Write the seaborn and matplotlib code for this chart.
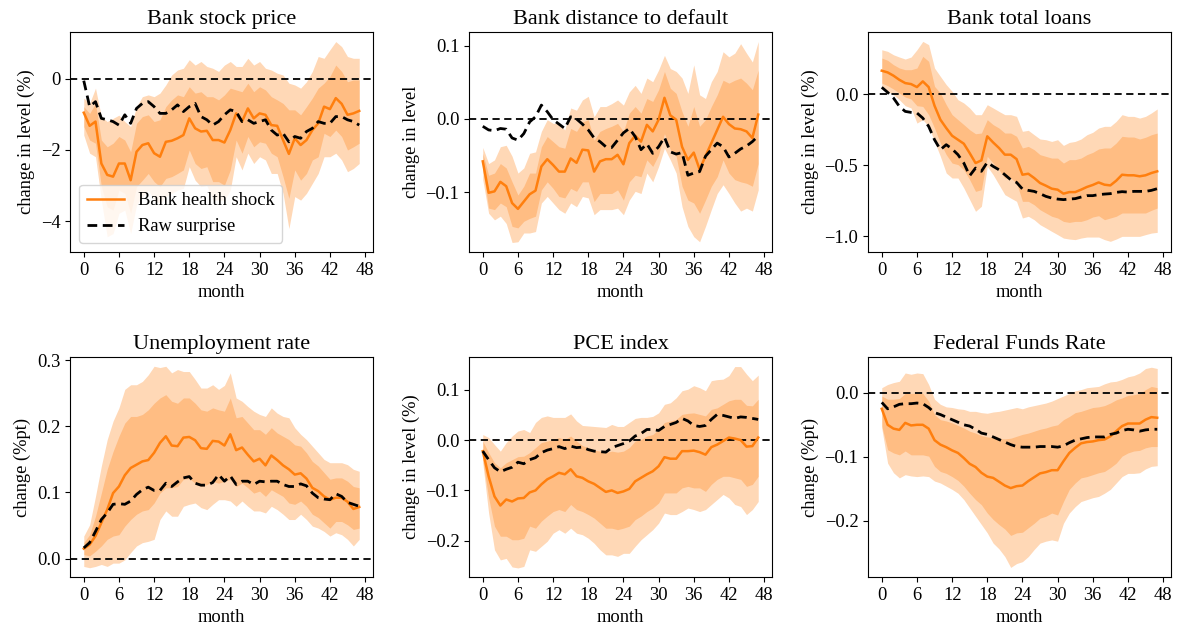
import numpy as np
import pandas as pd
import matplotlib
matplotlib.use("Agg")
import matplotlib.pyplot as plt
import seaborn as sns

months = list(range(48))
xticks = [0, 6, 12, 18, 24, 30, 36, 42, 48]

titles = ["Bank stock price", "Bank distance to default", "Bank total loans",
          "Unemployment rate", "PCE index", "Federal Funds Rate"]
ylabels = ["change in level (%)", "change in level", "change in level (%)",
           "change (%pt)", "change in level (%)", "change (%pt)"]
legend_labels = ["Bank health shock", "Raw surprise"]

# ---- Bank stock price ----
stock_irf = [-0.95,-1.32,-1.2,-2.38,-2.7,-2.75,-2.38,-2.38,-2.85,-2.05,-1.86,-1.81,-2.09,-2.19,-1.77,-1.74,
             -1.67,-1.58,-1.11,-1.39,-1.48,-1.46,-1.72,-1.72,-1.79,-1.44,-0.97,-1.2,-0.83,-1.11,-0.97,-1.01,
             -1.3,-1.32,-1.72,-2.11,-1.67,-1.86,-1.72,-1.44,-1.25,-0.78,-0.85,-0.54,-0.7,-1.01,-0.97,-0.9]
stock_raw = [-0.05,-0.78,-0.64,-1.11,-1.15,-1.2,-1.3,-1.01,-1.25,-0.83,-0.69,-0.64,-0.78,-0.97,-0.97,-0.87,
             -0.73,-0.92,-0.78,-0.69,-1.06,-1.15,-1.3,-1.2,-1.01,-0.87,-0.92,-1.2,-1.15,-1.25,-1.2,-1.15,
             -1.44,-1.58,-1.53,-1.77,-1.62,-1.67,-1.48,-1.39,-1.2,-1.25,-1.25,-1.06,-1.06,-1.15,-1.2,-1.3]
stock_hi90 = [-0.54,-0.69,-0.26,-1.06,-1.2,-1.11,-1.02,-1.2,-1.34,-0.78,-0.5,-0.45,-0.5,-0.4,-0.17,0.11,
              0.25,0.3,0.54,0.39,0.49,0.35,0.3,0.21,0.39,0.49,0.35,0.35,0.58,0.39,0.49,0.3,
              0.25,0.16,0.11,-0.12,-0.17,-0.26,-0.08,0.21,0.63,0.58,0.82,1.05,0.91,0.63,0.58,0.58]
stock_hi68 = [-0.78,-0.97,-0.69,-1.72,-1.91,-1.81,-1.62,-1.72,-2.05,-1.25,-1.06,-1.01,-1.2,-1.15,-0.78,-0.59,
              -0.45,-0.5,-0.22,-0.4,-0.36,-0.5,-0.5,-0.59,-0.45,-0.26,-0.31,-0.36,-0.12,-0.36,-0.22,-0.31,
              -0.5,-0.59,-0.69,-0.87,-0.87,-1.01,-0.78,-0.54,-0.26,-0.12,0.07,0.39,0.21,-0.08,-0.03,-0.03]
stock_lo68 = [-1.34,-1.72,-1.81,-3.03,-3.6,-3.69,-3.13,-3.22,-3.78,-3.03,-2.85,-2.66,-2.89,-3.03,-2.8,-2.75,
              -2.66,-2.56,-2.0,-2.38,-2.52,-2.47,-2.89,-2.89,-2.99,-2.56,-1.72,-2.09,-1.62,-1.91,-1.77,-1.81,
              -2.09,-2.19,-2.75,-3.36,-2.56,-2.85,-2.66,-2.28,-2.19,-1.53,-1.62,-1.44,-1.62,-2.0,-1.91,-1.81]
stock_lo90 = [-1.58,-2.09,-2.19,-3.41,-4.44,-4.35,-3.78,-3.69,-4.35,-3.55,-3.31,-3.13,-3.41,-3.5,-3.31,-3.22,
              -3.13,-3.08,-2.47,-2.85,-3.03,-2.99,-3.41,-3.41,-3.41,-3.13,-2.19,-2.56,-2.09,-2.38,-2.19,-2.28,
              -2.66,-2.66,-3.22,-4.21,-3.31,-3.41,-3.22,-2.94,-2.66,-2.19,-2.19,-2.09,-2.28,-2.61,-2.52,-2.38]

# ---- Bank distance to default ----
dd_irf = [-0.058,-0.101,-0.099,-0.086,-0.092,-0.115,-0.123,-0.113,-0.103,-0.098,-0.065,-0.055,-0.063,-0.072,-0.072,-0.054,
          -0.06,-0.042,-0.043,-0.072,-0.058,-0.055,-0.055,-0.049,-0.062,-0.033,-0.023,-0.031,-0.008,-0.017,-0.001,0.029,
          0.005,-0.001,-0.038,-0.056,-0.046,-0.069,-0.051,-0.033,-0.015,0.003,-0.007,-0.013,-0.014,-0.017,-0.026,0.006]
dd_raw = [-0.01,-0.015,-0.016,-0.013,-0.014,-0.026,-0.029,-0.02,-0.004,0.003,0.019,0.01,-0.001,-0.007,-0.013,0.003,
          0.0,-0.007,-0.015,-0.026,-0.031,-0.038,-0.039,-0.029,-0.019,-0.013,-0.024,-0.042,-0.034,-0.047,-0.038,-0.025,
          -0.045,-0.048,-0.046,-0.077,-0.074,-0.072,-0.051,-0.042,-0.033,-0.038,-0.052,-0.047,-0.041,-0.037,-0.031,-0.023]
dd_hi90 = [-0.039,-0.061,-0.056,-0.038,-0.036,-0.051,-0.074,-0.067,-0.047,-0.045,-0.017,-0.001,-0.006,-0.006,-0.015,0.015,
           0.012,0.026,0.031,0.003,0.017,0.017,0.021,0.026,0.019,0.037,0.046,0.035,0.056,0.051,0.067,0.087,
           0.069,0.065,0.056,0.035,0.074,0.033,0.028,0.051,0.065,0.092,0.085,0.09,0.103,0.09,0.078,0.106]
dd_hi68 = [-0.047,-0.077,-0.074,-0.061,-0.067,-0.086,-0.104,-0.092,-0.074,-0.074,-0.038,-0.024,-0.031,-0.038,-0.04,-0.013,
           -0.017,-0.004,-0.001,-0.029,-0.017,-0.013,-0.01,-0.006,-0.017,0.008,0.017,0.008,0.028,0.024,0.04,0.065,
           0.042,0.035,0.01,-0.01,0.017,-0.01,-0.001,0.017,0.033,0.053,0.049,0.053,0.056,0.049,0.04,0.067]
dd_lo68 = [-0.07,-0.122,-0.124,-0.115,-0.12,-0.147,-0.149,-0.14,-0.136,-0.133,-0.097,-0.086,-0.095,-0.106,-0.108,-0.095,
           -0.099,-0.086,-0.086,-0.113,-0.102,-0.102,-0.102,-0.097,-0.111,-0.086,-0.077,-0.079,-0.056,-0.065,-0.049,-0.02,
           -0.042,-0.051,-0.092,-0.111,-0.115,-0.129,-0.111,-0.092,-0.079,-0.056,-0.074,-0.083,-0.086,-0.088,-0.092,-0.061]
dd_lo90 = [-0.083,-0.129,-0.138,-0.133,-0.143,-0.169,-0.168,-0.156,-0.156,-0.154,-0.115,-0.106,-0.115,-0.124,-0.129,-0.115,
           -0.12,-0.106,-0.108,-0.131,-0.124,-0.124,-0.124,-0.122,-0.131,-0.111,-0.099,-0.102,-0.074,-0.086,-0.065,-0.04,
           -0.056,-0.074,-0.12,-0.147,-0.161,-0.168,-0.147,-0.124,-0.102,-0.09,-0.102,-0.115,-0.126,-0.122,-0.126,-0.097]

# ---- Bank total loans ----
loans_irf = [0.164,0.152,0.129,0.1,0.077,0.07,0.049,0.089,0.049,-0.082,-0.18,-0.239,-0.293,-0.321,-0.349,-0.415,
             -0.485,-0.466,-0.297,-0.34,-0.379,-0.426,-0.426,-0.457,-0.567,-0.56,-0.59,-0.625,-0.644,-0.665,-0.672,-0.7,
             -0.689,-0.689,-0.672,-0.653,-0.639,-0.621,-0.637,-0.642,-0.609,-0.567,-0.571,-0.571,-0.578,-0.571,-0.555,-0.543]
loans_raw = [0.047,0.012,-0.028,-0.087,-0.122,-0.129,-0.133,-0.169,-0.227,-0.321,-0.391,-0.356,-0.386,-0.426,-0.485,-0.574,
             -0.52,-0.543,-0.48,-0.508,-0.532,-0.567,-0.602,-0.621,-0.667,-0.677,-0.684,-0.7,-0.719,-0.731,-0.738,-0.742,
             -0.738,-0.735,-0.724,-0.714,-0.714,-0.707,-0.703,-0.7,-0.691,-0.686,-0.689,-0.684,-0.684,-0.684,-0.677,-0.665]
loans_hi90 = [0.311,0.3,0.276,0.26,0.246,0.26,0.311,0.37,0.347,0.183,0.124,0.066,0.019,-0.04,-0.063,-0.098,
              -0.145,-0.145,-0.075,-0.098,-0.122,-0.145,-0.145,-0.157,-0.262,-0.255,-0.286,-0.316,-0.321,-0.333,-0.321,-0.361,
              -0.34,-0.333,-0.316,-0.286,-0.269,-0.239,-0.227,-0.227,-0.192,-0.145,-0.157,-0.157,-0.169,-0.157,-0.133,-0.105]
loans_hi68 = [0.253,0.237,0.206,0.183,0.171,0.171,0.183,0.265,0.23,0.054,0.007,-0.075,-0.145,-0.18,-0.215,-0.251,
              -0.279,-0.274,-0.18,-0.215,-0.239,-0.274,-0.274,-0.297,-0.379,-0.368,-0.391,-0.426,-0.438,-0.45,-0.45,-0.485,
              -0.461,-0.461,-0.45,-0.426,-0.41,-0.386,-0.379,-0.379,-0.344,-0.297,-0.302,-0.302,-0.316,-0.304,-0.286,-0.274]
loans_lo68 = [0.077,0.059,0.035,0.007,-0.021,-0.035,-0.082,-0.087,-0.145,-0.239,-0.344,-0.426,-0.485,-0.496,-0.532,-0.602,
              -0.684,-0.672,-0.438,-0.485,-0.532,-0.59,-0.59,-0.625,-0.754,-0.754,-0.778,-0.813,-0.836,-0.859,-0.871,-0.895,
              -0.902,-0.895,-0.895,-0.883,-0.864,-0.855,-0.883,-0.871,-0.859,-0.836,-0.836,-0.836,-0.836,-0.836,-0.817,-0.801]
loans_lo90 = [0.049,0.019,-0.005,-0.04,-0.082,-0.098,-0.204,-0.18,-0.227,-0.333,-0.438,-0.555,-0.59,-0.59,-0.66,-0.742,
              -0.824,-0.789,-0.508,-0.567,-0.637,-0.707,-0.731,-0.754,-0.871,-0.859,-0.883,-0.918,-0.941,-0.965,-0.988,-1.012,
              -1.019,-1.023,-1.012,-1.005,-1.005,-1.005,-1.023,-1.035,-1.019,-1.0,-1.0,-1.0,-1.0,-0.988,-0.977,-0.972]

# ---- Unemployment rate ----
unemp_irf = [0.015,0.021,0.034,0.054,0.074,0.099,0.109,0.126,0.137,0.142,0.147,0.149,0.16,0.175,0.185,0.171,
             0.17,0.183,0.184,0.179,0.167,0.166,0.178,0.177,0.171,0.188,0.164,0.168,0.157,0.147,0.151,0.141,
             0.156,0.149,0.141,0.135,0.127,0.129,0.121,0.107,0.102,0.094,0.089,0.092,0.092,0.086,0.075,0.078]
unemp_raw = [0.016,0.024,0.041,0.059,0.069,0.082,0.083,0.082,0.087,0.097,0.104,0.108,0.103,0.103,0.114,0.109,
             0.116,0.122,0.124,0.114,0.111,0.111,0.115,0.127,0.117,0.125,0.112,0.117,0.117,0.112,0.117,0.116,
             0.117,0.117,0.112,0.109,0.109,0.113,0.11,0.099,0.092,0.09,0.089,0.098,0.094,0.085,0.082,0.079]
unemp_hi90 = [0.034,0.051,0.094,0.14,0.18,0.208,0.228,0.256,0.263,0.263,0.268,0.278,0.291,0.289,0.291,0.281,
              0.286,0.283,0.283,0.271,0.258,0.258,0.263,0.256,0.262,0.281,0.243,0.238,0.23,0.223,0.218,0.215,
              0.228,0.22,0.215,0.213,0.198,0.188,0.18,0.17,0.16,0.15,0.145,0.145,0.145,0.142,0.135,0.132]
unemp_hi68 = [0.024,0.036,0.064,0.099,0.135,0.162,0.185,0.205,0.215,0.215,0.218,0.225,0.235,0.243,0.248,0.238,
              0.235,0.243,0.243,0.235,0.225,0.223,0.228,0.225,0.223,0.243,0.213,0.215,0.205,0.195,0.195,0.188,
              0.198,0.19,0.185,0.18,0.172,0.17,0.16,0.147,0.14,0.13,0.12,0.122,0.122,0.117,0.109,0.107]
unemp_lo68 = [0.006,0.004,0.011,0.019,0.029,0.034,0.036,0.049,0.059,0.067,0.072,0.074,0.084,0.099,0.107,0.107,
              0.109,0.12,0.121,0.114,0.109,0.112,0.117,0.114,0.117,0.12,0.109,0.114,0.107,0.099,0.102,0.094,
              0.104,0.099,0.094,0.084,0.082,0.087,0.079,0.067,0.062,0.054,0.046,0.056,0.056,0.051,0.044,0.046]
unemp_lo90 = [-0.012,-0.014,-0.012,-0.009,-0.012,-0.007,-0.007,-0.002,0.009,0.019,0.024,0.026,0.029,0.059,0.072,0.064,
              0.064,0.079,0.082,0.084,0.077,0.074,0.082,0.089,0.089,0.087,0.079,0.087,0.079,0.072,0.072,0.069,
              0.079,0.074,0.067,0.059,0.059,0.067,0.059,0.049,0.046,0.041,0.034,0.039,0.036,0.029,0.019,0.029]

# ---- PCE index ----
pce_irf = [-0.022,-0.072,-0.112,-0.13,-0.118,-0.122,-0.116,-0.115,-0.104,-0.1,-0.088,-0.078,-0.072,-0.065,-0.068,-0.058,
           -0.072,-0.075,-0.082,-0.087,-0.095,-0.103,-0.1,-0.105,-0.102,-0.097,-0.082,-0.075,-0.068,-0.062,-0.052,-0.034,
           -0.037,-0.037,-0.022,-0.022,-0.021,-0.024,-0.029,-0.014,-0.009,-0.002,0.005,0.003,0.0,-0.013,-0.012,0.005]
pce_raw = [-0.022,-0.039,-0.055,-0.063,-0.058,-0.054,-0.044,-0.047,-0.039,-0.035,-0.025,-0.02,-0.017,-0.013,-0.017,-0.012,
           -0.015,-0.014,-0.019,-0.022,-0.023,-0.024,-0.015,-0.011,-0.007,-0.002,0.008,0.013,0.021,0.021,0.019,0.027,
           0.031,0.035,0.043,0.038,0.029,0.027,0.029,0.041,0.051,0.049,0.046,0.043,0.046,0.045,0.043,0.041]
pce_hi90 = [0.011,0.005,-0.009,-0.022,-0.005,0.008,0.018,0.021,0.015,0.035,0.045,0.048,0.045,0.045,0.045,0.052,
            0.038,0.029,0.028,0.027,0.026,0.025,0.031,0.027,0.027,0.035,0.043,0.045,0.045,0.047,0.054,0.071,
            0.074,0.084,0.098,0.101,0.108,0.104,0.098,0.118,0.12,0.121,0.128,0.146,0.146,0.131,0.118,0.129]
pce_hi68 = [-0.002,-0.025,-0.045,-0.055,-0.045,-0.039,-0.033,-0.032,-0.025,-0.015,-0.005,-0.002,0.001,0.005,0.001,0.008,
            -0.002,-0.011,-0.015,-0.02,-0.022,-0.025,-0.022,-0.024,-0.022,-0.015,-0.002,0.001,0.008,0.011,0.021,0.035,
            0.038,0.041,0.051,0.053,0.054,0.051,0.048,0.061,0.064,0.071,0.078,0.081,0.081,0.069,0.068,0.081]
pce_lo68 = [-0.039,-0.115,-0.171,-0.191,-0.191,-0.198,-0.198,-0.195,-0.171,-0.175,-0.161,-0.151,-0.142,-0.138,-0.142,-0.128,
            -0.138,-0.142,-0.148,-0.155,-0.165,-0.175,-0.175,-0.178,-0.175,-0.171,-0.158,-0.151,-0.142,-0.135,-0.125,-0.105,
            -0.105,-0.105,-0.095,-0.092,-0.095,-0.095,-0.102,-0.088,-0.078,-0.072,-0.072,-0.075,-0.078,-0.092,-0.088,-0.072]
pce_lo90 = [-0.045,-0.145,-0.218,-0.238,-0.235,-0.252,-0.254,-0.251,-0.218,-0.221,-0.211,-0.201,-0.185,-0.178,-0.185,-0.175,
            -0.185,-0.188,-0.195,-0.205,-0.218,-0.228,-0.228,-0.231,-0.225,-0.225,-0.211,-0.198,-0.188,-0.178,-0.165,-0.145,
            -0.148,-0.148,-0.142,-0.135,-0.138,-0.142,-0.138,-0.128,-0.118,-0.108,-0.115,-0.128,-0.132,-0.148,-0.138,-0.122]

# ---- Federal Funds Rate ----
ffr_irf = [-0.025,-0.05,-0.056,-0.058,-0.047,-0.051,-0.05,-0.05,-0.056,-0.074,-0.081,-0.085,-0.09,-0.094,-0.102,-0.111,
           -0.116,-0.125,-0.131,-0.133,-0.139,-0.145,-0.149,-0.146,-0.145,-0.138,-0.132,-0.126,-0.124,-0.121,-0.121,-0.107,
           -0.094,-0.086,-0.079,-0.077,-0.076,-0.074,-0.073,-0.068,-0.06,-0.052,-0.048,-0.048,-0.048,-0.042,-0.038,-0.039]
ffr_raw = [-0.015,-0.025,-0.022,-0.018,-0.017,-0.017,-0.016,-0.017,-0.023,-0.031,-0.034,-0.038,-0.042,-0.046,-0.05,-0.052,
           -0.057,-0.063,-0.065,-0.069,-0.073,-0.077,-0.081,-0.084,-0.085,-0.085,-0.085,-0.084,-0.084,-0.084,-0.085,-0.083,
           -0.078,-0.074,-0.072,-0.07,-0.069,-0.069,-0.069,-0.065,-0.063,-0.059,-0.057,-0.058,-0.06,-0.058,-0.057,-0.057]
ffr_hi90 = [0.008,0.013,0.016,0.018,0.031,0.029,0.031,0.03,0.013,-0.01,-0.018,-0.022,-0.023,-0.025,-0.026,-0.029,
            -0.029,-0.031,-0.032,-0.03,-0.029,-0.027,-0.025,-0.023,-0.025,-0.022,-0.02,-0.018,-0.016,-0.013,-0.009,-0.005,
            -0.001,0.003,0.005,0.008,0.009,0.01,0.014,0.017,0.018,0.021,0.025,0.027,0.031,0.038,0.04,0.038]
ffr_hi68 = [-0.005,-0.01,-0.01,-0.009,-0.001,-0.001,-0.001,-0.001,-0.013,-0.034,-0.042,-0.044,-0.047,-0.051,-0.055,-0.06,
            -0.063,-0.067,-0.069,-0.07,-0.072,-0.072,-0.071,-0.068,-0.065,-0.063,-0.06,-0.057,-0.055,-0.052,-0.05,-0.042,
            -0.037,-0.031,-0.029,-0.026,-0.023,-0.022,-0.02,-0.016,-0.011,-0.008,-0.004,-0.003,-0.001,0.005,0.01,0.008]
ffr_lo68 = [-0.052,-0.089,-0.094,-0.097,-0.091,-0.097,-0.097,-0.097,-0.099,-0.115,-0.123,-0.126,-0.131,-0.137,-0.146,-0.157,
            -0.167,-0.175,-0.188,-0.198,-0.206,-0.213,-0.223,-0.219,-0.218,-0.211,-0.204,-0.196,-0.193,-0.188,-0.191,-0.17,
            -0.151,-0.141,-0.133,-0.131,-0.128,-0.125,-0.123,-0.117,-0.11,-0.099,-0.094,-0.091,-0.09,-0.086,-0.084,-0.084]
ffr_lo90 = [-0.055,-0.11,-0.125,-0.133,-0.128,-0.13,-0.131,-0.13,-0.131,-0.138,-0.141,-0.146,-0.151,-0.157,-0.167,-0.18,
            -0.193,-0.206,-0.219,-0.235,-0.244,-0.256,-0.273,-0.267,-0.264,-0.256,-0.245,-0.235,-0.232,-0.23,-0.232,-0.204,
            -0.188,-0.178,-0.17,-0.167,-0.164,-0.162,-0.157,-0.151,-0.141,-0.131,-0.126,-0.126,-0.125,-0.119,-0.115,-0.114]

panels = [
    (stock_irf, stock_raw, stock_lo68, stock_hi68, stock_lo90, stock_hi90),
    (dd_irf, dd_raw, dd_lo68, dd_hi68, dd_lo90, dd_hi90),
    (loans_irf, loans_raw, loans_lo68, loans_hi68, loans_lo90, loans_hi90),
    (unemp_irf, unemp_raw, unemp_lo68, unemp_hi68, unemp_lo90, unemp_hi90),
    (pce_irf, pce_raw, pce_lo68, pce_hi68, pce_lo90, pce_hi90),
    (ffr_irf, ffr_raw, ffr_lo68, ffr_hi68, ffr_lo90, ffr_hi90),
]

ylims = [(-4.87, 1.32), (-0.182, 0.119), (-1.11, 0.436),
         (-0.028, 0.305), (-0.272, 0.165), (-0.288, 0.056)]
yticks = [[-4, -2, 0], [-0.1, 0.0, 0.1], [-1.0, -0.5, 0.0],
          [0.0, 0.1, 0.2, 0.3], [-0.2, -0.1, 0.0, 0.1], [-0.2, -0.1, 0.0]]
yfmt = ["{:.0f}", "{:.1f}", "{:.1f}", "{:.1f}", "{:.1f}", "{:.1f}"]

plt.rcParams["font.family"] = "serif"
plt.rcParams["font.serif"] = ["Liberation Serif", "DejaVu Serif"]
plt.rcParams["font.size"] = 13.3
plt.rcParams["axes.unicode_minus"] = True

orange = "#ff7f0e"
fig, axes = plt.subplots(2, 3, figsize=(11.78, 6.35), dpi=100)
fig.subplots_adjust(left=70/1178, right=1171/1178, top=1-32/635, bottom=1-577/635,
                    wspace=96/303, hspace=105/220)

for i, ax in enumerate(axes.flat):
    irf, raw, lo68, hi68, lo90, hi90 = panels[i]
    df = pd.DataFrame({"month": months, "irf": irf, "raw": raw})
    ax.fill_between(months, lo90, hi90, color=orange, alpha=0.3, linewidth=0)
    ax.fill_between(months, lo68, hi68, color=orange, alpha=0.3, linewidth=0)
    ax.axhline(0, color="black", linestyle="--", linewidth=1.3, dashes=(4, 2.5))
    sns.lineplot(data=df, x="month", y="irf", ax=ax, color=orange, linewidth=1.8,
                 label=legend_labels[0] if i == 0 else None, legend=False)
    sns.lineplot(data=df, x="month", y="raw", ax=ax, color="black", linewidth=2.0,
                 linestyle=(0, (3.5, 2)), label=legend_labels[1] if i == 0 else None, legend=False)
    ax.set_xlim(-2.35, 49.35)
    ax.set_ylim(*ylims[i])
    ax.set_xticks(xticks)
    ax.set_yticks(yticks[i])
    ax.set_yticklabels([yfmt[i].format(v).replace("-", "\u2212") for v in yticks[i]])
    ax.set_title(titles[i], fontsize=16)
    ax.set_xlabel("month", fontsize=13.3)
    ax.set_ylabel(ylabels[i], fontsize=13.3)
    ax.tick_params(labelsize=13.3)
    if i == 0:
        ax.legend(loc="lower left", fontsize=13.3)

fig.savefig("out.png", dpi=100)
